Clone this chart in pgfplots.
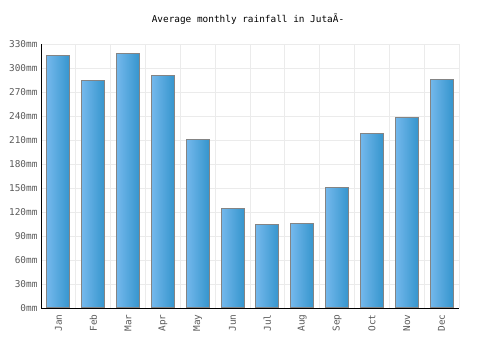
\documentclass[border=0pt]{standalone}
\usepackage{pgfplots}
\pgfplotsset{compat=1.18}
\usepackage{fontspec}
\setmainfont{DejaVu Sans Mono}
\definecolor{barL}{HTML}{74B8EC}
\definecolor{barR}{HTML}{3595CD}
\definecolor{gridc}{HTML}{EBEBEB}
\definecolor{tickc}{HTML}{5A5A5A}
\definecolor{barE}{HTML}{848484}
\pgfplotsset{onebar/.style={draw=none, left color=barL, right color=barR, bar shift=0pt}}
\begin{document}
\begin{tikzpicture}[x=1pt,y=1pt]
\path (0,0) rectangle (500,350);
\node[font=\fontsize{9.4}{11}\selectfont] at (248,331) {Average monthly rainfall in JutaÃ-};
\begin{axis}[
  at={(41pt,42pt)}, anchor=south west,
  scale only axis, width=418pt, height=264pt,
  xmin=-0.5, xmax=11.5, ymin=0, ymax=330,
  axis x line*=bottom, axis y line*=left,
  axis line style={black, line width=0.8pt},
  xtick={0,...,11},
  xticklabels={Jan,Feb,Mar,Apr,May,Jun,Jul,Aug,Sep,Oct,Nov,Dec},
  minor xtick={-0.5,0.5,...,11.5},
  xminorgrids, ymajorgrids,
  grid style={gridc, line width=0.8pt},
  minor grid style={gridc, line width=0.8pt},
  ytick={0,30,...,330},
  yticklabel={\pgfmathprintnumber{\tick}mm},
  major tick length=0pt, minor tick length=0pt,
  tick label style={font=\fontsize{9.4}{11}\selectfont, text=tickc},
  x tick label style={rotate=90, anchor=east, xshift=-3pt},
  /pgf/number format/assume math mode=true,
  ybar, bar width=23pt,
]
\addplot[onebar] coordinates {(0,315)};
\addplot[onebar] coordinates {(1,284)};
\addplot[onebar] coordinates {(2,317.5)};
\addplot[onebar] coordinates {(3,290)};
\addplot[onebar] coordinates {(4,210)};
\addplot[onebar] coordinates {(5,124)};
\addplot[onebar] coordinates {(6,104)};
\addplot[onebar] coordinates {(7,106)};
\addplot[onebar] coordinates {(8,150)};
\addplot[onebar] coordinates {(9,217.5)};
\addplot[onebar] coordinates {(10,237.5)};
\addplot[onebar] coordinates {(11,285)};
\addplot[draw=barE, line width=1pt, fill=none, bar shift=0pt] coordinates {
(0,315) (1,284) (2,317.5) (3,290) (4,210) (5,124) (6,104) (7,106) (8,150) (9,217.5) (10,237.5) (11,285)};
\end{axis}
\end{tikzpicture}
\end{document}
